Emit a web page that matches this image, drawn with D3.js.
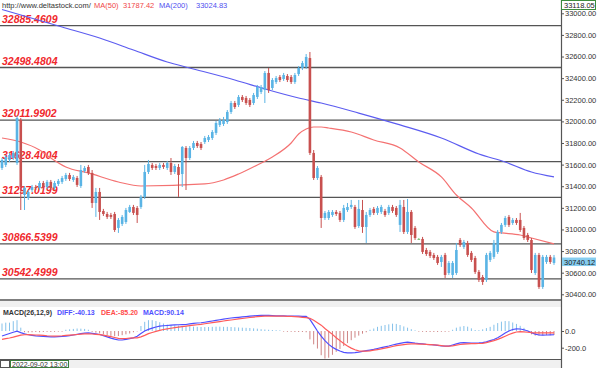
<!DOCTYPE html>
<html>
<head>
<meta charset="utf-8">
<script src="https://cdn.jsdelivr.net/npm/d3@7"></script>
<style>
  body { margin: 0; background: #fff; }
  svg { display: block; font-family: "Liberation Sans", Arial, sans-serif; }
</style>
</head>
<body>
<svg id="chart" width="600" height="368"></svg>
<script>
// OHLC of each bar
const opens = [31569,31597,31643,31661,31615,32013,31319,31291,31365,31393,31384,31430,31393,31440,31384,31421,31440,31467,31504,31458,
  31476,31402,31541,31578,31523,31245,31347,31171,31143,31134,31143,31014,31051,31069,31162,31208,31199,31208,31301,31532,
  31597,31587,31569,31597,31569,31615,31532,31578,31513,31754,31661,31754,31800,31791,31809,31828,31846,31893,31967,31976,
  31994,32087,32170,32152,32226,32216,32198,32170,32226,32272,32290,32448,32309,32364,32411,32392,32420,32411,32364,32438,
  32494,32503,32586,31708,31476,31486,31106,31106,31134,31162,31153,31088,31180,31208,31208,31032,31180,31023,31134,31190,
  31153,31162,31171,31153,31208,31199,31042,31208,30977,31162,31014,30912,30912,30810,30792,30764,30746,30699,30764,30597,
  30579,30597,30903,30838,30875,30783,30736,30607,30560,30533,30718,30746,30792,30977,31042,31116,31060,31088,31088,31014,
  30949,30903,30597,30764,30468,30699,30746,30690];
const highs = [31661,31689,31708,31726,32050,32031,31402,31365,31412,31412,31449,31449,31458,31458,31449,31467,31495,31523,31523,31504,
  31495,31597,31587,31597,31550,31384,31384,31190,31162,31153,31162,31106,31134,31199,31227,31227,31217,31319,31597,31643,
  31615,31606,31615,31615,31634,31661,31606,31606,31772,31772,31772,31819,31819,31809,31865,31874,31920,32004,32031,32041,
  32105,32189,32189,32244,32244,32235,32216,32263,32337,32337,32466,32494,32401,32420,32429,32448,32438,32429,32448,32512,
  32559,32623,32642,31735,31587,31504,31171,31180,31180,31180,31171,31227,31245,31273,31227,31273,31273,31162,31199,31208,
  31217,31227,31190,31227,31227,31217,31273,31273,31282,31180,31032,30921,30931,30829,30810,30783,30764,30764,30783,30708,
  30708,30875,30921,30903,30894,30801,30755,30625,30579,30783,30801,30903,30995,31060,31125,31134,31106,31106,31153,31032,
  30968,30921,30783,30783,30764,30764,30764,30764];
const lows = [31550,31578,31624,31643,31597,31180,31180,31273,31347,31365,31365,31375,31375,31365,31365,31402,31421,31449,31449,31440,
  31393,31384,31523,31504,31199,31116,31088,31125,31097,31097,30977,30968,31032,31051,31153,31134,31060,31190,31282,31513,
  31550,31550,31550,31560,31550,31504,31513,31301,31393,31365,31643,31735,31754,31735,31791,31809,31828,31874,31948,31957,
  31976,32068,32115,32133,32179,32152,32133,32152,32207,32253,32170,32263,32290,32346,32364,32374,32364,32346,32346,32420,
  32475,32485,31689,31458,31458,31014,31088,31088,31116,31125,31069,31069,31162,31190,31005,31014,30968,30875,31116,31134,
  31134,31143,31116,31134,31153,31116,30977,30958,30958,30875,30903,30903,30773,30755,30736,30718,30672,30653,30551,30579,
  30551,30579,30838,30820,30746,30699,30588,30514,30487,30514,30699,30727,30773,30958,31023,31023,31042,31042,30977,30903,
  30884,30597,30579,30450,30450,30681,30681,30672];
const closes = [31643,31671,31689,31708,32031,31393,31384,31347,31393,31384,31430,31393,31440,31384,31430,31449,31476,31504,31467,31486,
  31412,31550,31569,31523,31245,31347,31162,31143,31116,31116,30995,31088,31116,31180,31208,31153,31134,31301,31532,31606,
  31569,31569,31597,31578,31615,31532,31587,31504,31763,31661,31754,31800,31772,31754,31846,31856,31902,31985,32013,32013,
  32087,32170,32133,32226,32198,32170,32152,32244,32318,32318,32448,32290,32383,32401,32383,32429,32383,32364,32429,32494,
  32540,32596,31708,31476,31569,31106,31153,31162,31162,31143,31088,31199,31208,31227,31023,31190,31023,31134,31180,31153,
  31199,31208,31134,31208,31171,31134,31227,30977,31162,30949,30921,30912,30792,30773,30755,30736,30690,30746,30579,30690,
  30690,30810,30856,30884,30764,30718,30607,30533,30514,30764,30783,30875,30977,31042,31106,31042,31088,31060,30995,30921,
  30903,30625,30764,30468,30746,30746,30699,30740.12];

// moving averages, sampled as [bar, price]
const ma50 = [[0,31846],[5,31809],[10,31735],[13,31661],[17,31578],[23,31523],[31,31439],[37,31402],[54,31421],[59,31458],
  [63,31513],[68,31597],[72,31671],[77,31800],[79,31883],[81,31930],[83,31948],[85,31948],[87,31939],[93,31902],[99,31828],
  [106,31754],[111,31624],[117,31486],[121,31319],[125,31199],[131,30977],[133,30968],[138,30949],[141,30921],[147,30866]];
const ma200 = [[0,33035],[16,32873],[26,32771],[35,32660],[44,32549],[50,32494],[62,32383],[71,32290],[79,32216],[85,32170],
  [95,32077],[106,31967],[117,31846],[127,31698],[134,31624],[141,31532],[147,31486]];

// MACD(26,12,9) per bar
const macdHist = [90,100,100,118,130,40,-15,-18,-15,-12,-15,-12,-10,-12,-10,-8,-8,15,20,25,
  30,28,25,15,-10,-20,-30,-40,-50,-58,-62,-60,-50,-40,-30,-15,-5,60,110,130,
  130,120,105,90,78,72,68,65,60,58,55,52,50,48,47,48,50,52,52,50,
  50,48,45,42,40,38,36,32,28,22,18,15,12,10,8,-8,-10,-10,-12,-12,
  -12,-15,-100,-160,-210,-290,-330,-320,-285,-250,-215,-180,-145,-110,-80,-55,-32,-15,15,30,
  50,62,72,80,88,85,72,55,40,22,8,-8,-10,-12,-12,-12,-12,-10,-10,-8,
  15,40,52,60,52,32,12,10,20,35,50,75,95,112,120,118,102,85,62,38,
  10,-40,-55,-55,-52,-50,-50,-48];
const macdDiff = [-60,-45,-30,-15,-2,-20,-35,-45,-52,-58,-62,-66,-68,-70,-70,-68,-66,-62,-56,-48,
  -40,-32,-25,-22,-28,-35,-42,-55,-70,-85,-98,-108,-108,-100,-92,-82,-62,-30,0,20,
  35,48,58,63,66,70,73,75,76,78,85,92,96,99,105,112,120,128,135,142,
  150,156,160,164,168,172,177,181,184,186,188,186,184,182,180,180,179,178,177,177,
  176,175,140,70,0,-60,-115,-160,-195,-220,-240,-255,-262,-262,-258,-252,-244,-236,-228,-220,
  -210,-200,-190,-180,-168,-158,-148,-140,-134,-138,-145,-150,-155,-160,-162,-166,-172,-178,-182,-180,
  -168,-155,-143,-140,-142,-144,-145,-143,-140,-130,-115,-102,-80,-55,-25,0,18,26,24,15,
  0,-20,-38,-48,-50,-48,-47,-45];
const macdDea = [-100,-92,-84,-74,-62,-50,-45,-44,-46,-48,-50,-53,-57,-60,-62,-60,-57,-53,-50,-46,
  -42,-38,-35,-34,-36,-40,-44,-50,-58,-68,-78,-88,-92,-90,-86,-83,-82,-70,-52,-32,
  -18,-5,8,18,26,33,40,46,52,58,65,70,75,80,87,93,100,107,113,120,
  127,132,138,145,150,156,162,167,172,176,178,178,178,178,178,177,176,174,172,168,
  164,160,152,128,100,70,30,-5,-40,-80,-115,-150,-180,-205,-225,-238,-242,-242,-238,-230,
  -222,-215,-205,-196,-186,-176,-170,-163,-158,-154,-154,-156,-158,-160,-162,-165,-170,-175,-180,-182,
  -178,-170,-162,-158,-155,-152,-151,-150,-148,-140,-128,-115,-100,-82,-62,-42,-25,-12,-8,-10,
  -15,-20,-22,-22,-22,-22,-22,-22];

const levels = [32885.4609, 32498.4804, 32011.9902, 31628.4004, 31297.0199, 30866.5399, 30542.4999];
const priceTicks = [33000,32800,32600,32400,32200,32000,31800,31600,31400,31200,31000,30800,30600,30400];
const macdTicks = [0, -200];
const lastPrice = 30740.12;
const topPrice = 33118.05;

const axisX = 561;
const svg = d3.select('#chart');

const x = d3.scaleLinear().domain([0, opens.length - 1]).range([2, 554]);
const y = d3.scaleLinear().domain([30400, 33000]).range([294.3, 13.3]);
const ym = d3.scaleLinear().domain([-200, 0]).range([347.7, 331]);

svg.append('defs').append('clipPath').attr('id', 'mainClip')
  .append('rect').attr('x', 0).attr('y', 0).attr('width', axisX).attr('height', 300);

// pane frames
svg.append('rect').attr('x', 0).attr('y', 301).attr('width', axisX).attr('height', 6).attr('fill', '#f0f0f0');
svg.append('rect').attr('x', 0).attr('y', 360).attr('width', axisX).attr('height', 8).attr('fill', '#f0f0f0');
svg.append('line').attr('x1', 0).attr('x2', axisX).attr('y1', 300).attr('y2', 300).attr('stroke', '#555').attr('stroke-width', 1.5);
svg.append('line').attr('x1', 0).attr('x2', axisX).attr('y1', 359.5).attr('y2', 359.5).attr('stroke', '#555').attr('stroke-width', 1.2);

const main = svg.append('g').attr('clip-path', 'url(#mainClip)');

// level lines and labels
main.selectAll('.level')
  .data(levels)
  .enter()
  .append('line')
  .attr('x1', 0).attr('x2', axisX)
  .attr('y1', d => y(d)).attr('y2', d => y(d))
  .attr('stroke', '#555').attr('stroke-width', 1.3);

main.selectAll('.level-label')
  .data(levels)
  .enter()
  .append('text')
  .attr('x', 2)
  .attr('y', d => y(d) - 3)
  .attr('fill', '#f0282d')
  .attr('font-size', '10.5px')
  .attr('font-weight', 'bold')
  .attr('font-style', 'italic')
  .text(d => d.toFixed(4));

// moving averages
const maLine = d3.line()
  .x(d => x(d[0]))
  .y(d => y(d[1]))
  .curve(d3.curveMonotoneX);

main.append('path').datum(ma200).attr('d', maLine)
  .attr('fill', 'none').attr('stroke', '#5c5cf0').attr('stroke-width', 1.2);
main.append('path').datum(ma50).attr('d', maLine)
  .attr('fill', 'none').attr('stroke', '#f47272').attr('stroke-width', 1.2);

// candles
const candleColor = i => closes[i] > opens[i] ? '#5ab4e5' : (closes[i] < opens[i] ? '#c8504f' : '#7cc47c');
const bars = d3.range(opens.length);

main.selectAll('.wick')
  .data(bars)
  .enter()
  .append('line')
  .attr('x1', i => x(i)).attr('x2', i => x(i))
  .attr('y1', i => y(highs[i])).attr('y2', i => y(lows[i]))
  .attr('stroke', candleColor).attr('stroke-width', 1);

main.selectAll('.body')
  .data(bars)
  .enter()
  .append('rect')
  .attr('x', i => x(i) - 1.3)
  .attr('width', 2.6)
  .attr('y', i => y(Math.max(opens[i], closes[i])))
  .attr('height', i => Math.max(1, Math.abs(y(opens[i]) - y(closes[i]))))
  .attr('fill', candleColor);

// MACD pane
svg.selectAll('.hist')
  .data(bars)
  .enter()
  .append('rect')
  .attr('x', i => x(i) - 0.5)
  .attr('width', 1)
  .attr('y', i => Math.min(ym(0), ym(macdHist[i])))
  .attr('height', i => Math.abs(ym(macdHist[i]) - ym(0)))
  .attr('fill', i => macdHist[i] >= 0 ? '#86c2ea' : '#cf8585');

const macdLine = arr => d3.line().x((d, i) => x(i)).y(d => ym(d))(arr);
svg.append('path').attr('d', macdLine(macdDiff))
  .attr('fill', 'none').attr('stroke', '#4f4fff').attr('stroke-width', 1.2);
svg.append('path').attr('d', macdLine(macdDea))
  .attr('fill', 'none').attr('stroke', '#ff5a5a').attr('stroke-width', 1.2);

// price axis
svg.append('line').attr('x1', axisX + 0.5).attr('x2', axisX + 0.5).attr('y1', 0).attr('y2', 368)
  .attr('stroke', '#555').attr('stroke-width', 1.2);

const yAxis = svg.append('g')
  .attr('transform', `translate(${axisX},0)`)
  .call(d3.axisRight(y).tickValues(priceTicks).tickFormat(d => d.toFixed(2)).tickSize(3).tickPadding(1));
yAxis.select('.domain').remove();
yAxis.selectAll('text').attr('font-size', '7.5px').attr('fill', '#333').attr('font-family', '"Liberation Sans", Arial, sans-serif');
yAxis.selectAll('line').attr('stroke', '#555');

const mAxis = svg.append('g')
  .attr('transform', `translate(${axisX},0)`)
  .call(d3.axisRight(ym).tickValues(macdTicks).tickFormat(d => d.toFixed(1)).tickSize(3).tickPadding(1));
mAxis.select('.domain').remove();
mAxis.selectAll('text').attr('font-size', '7.5px').attr('fill', '#333').attr('font-family', '"Liberation Sans", Arial, sans-serif');
mAxis.selectAll('line').attr('stroke', '#555');

// top price box
svg.append('rect').attr('x', axisX + 0.5).attr('y', 0.5).attr('width', 34).attr('height', 9)
  .attr('fill', '#fff').attr('stroke', '#3c8c3c').attr('stroke-width', 1);
svg.append('text').attr('x', axisX + 3).attr('y', 7.8).attr('font-size', '7.5px').attr('fill', '#222')
  .text(topPrice.toFixed(2));

// current price box, hung just under the price like the terminal does
const lastY = y(lastPrice);
svg.append('rect').attr('x', axisX + 1).attr('y', lastY).attr('width', 34).attr('height', 8.5)
  .attr('fill', '#86cdf0');
svg.append('text').attr('x', axisX + 3).attr('y', lastY + 7).attr('font-size', '7.5px').attr('fill', '#222')
  .text(lastPrice.toFixed(2));

// legends
const legend = (xp, yp, txt, color, bold) => svg.append('text')
  .attr('x', xp).attr('y', yp)
  .attr('font-size', bold ? '7px' : '7.5px')
  .attr('font-weight', bold ? 'bold' : 'normal')
  .attr('fill', color)
  .text(txt);

legend(2, 8, 'http://www.deltastock.com/', '#333', false);
legend(94, 8, 'MA(50)', '#f04848', false);
legend(123, 8, '31787.42', '#f04848', false);
legend(159, 8, 'MA(200)', '#4f4fef', false);
legend(196, 8, '33024.83', '#4f4fef', false);

legend(3, 314.5, 'MACD(26,12,9)', '#333', true);
legend(57, 314.5, 'DIFF:-40.13', '#4f4fff', true);
legend(101, 314.5, 'DEA:-85.20', '#ff4a4a', true);
legend(143, 314.5, 'MACD:90.14', '#4f4fff', true);

// time marker at the bottom
svg.append('rect').attr('x', 0.5).attr('y', 360.5).attr('width', 9).attr('height', 7)
  .attr('fill', '#fff').attr('stroke', '#555');
svg.append('rect').attr('x', 10.5).attr('y', 360.5).attr('width', 58).attr('height', 7)
  .attr('fill', '#fff').attr('stroke', '#3c7c3c');
svg.append('text').attr('x', 12).attr('y', 367).attr('font-size', '7px').attr('fill', '#333')
  .text('2022-09-02 13:00');
</script>
</body>
</html>
